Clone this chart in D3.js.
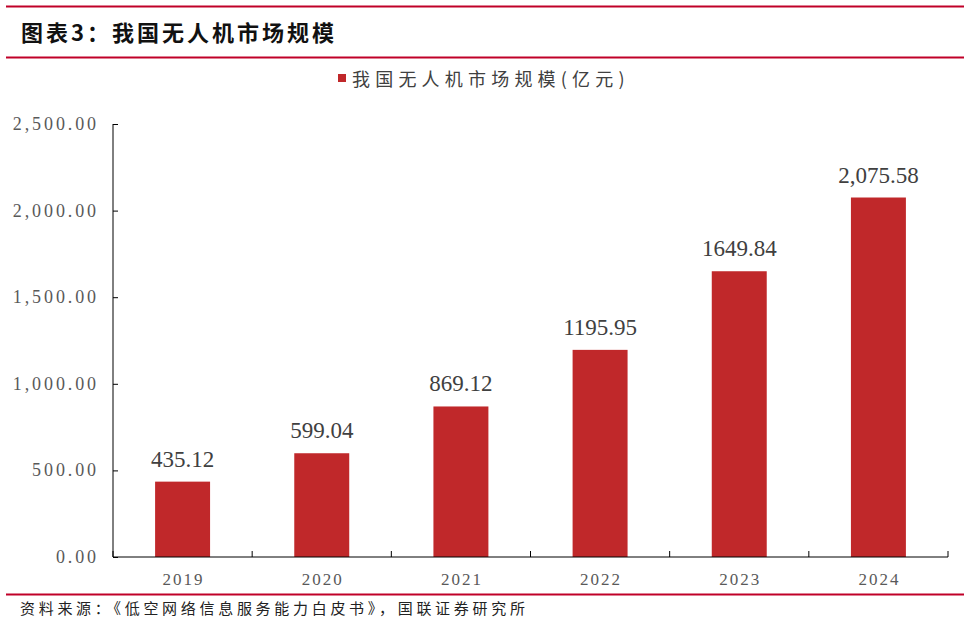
<!DOCTYPE html>
<html><head><meta charset="utf-8">
<script src="https://cdn.jsdelivr.net/npm/d3@7"></script>
<style>body{margin:0;background:#fff}svg{display:block}</style>
</head><body>
<svg id="c" width="974" height="626"></svg>
<script>
const categories = ["2019","2020","2021","2022","2023","2024"];
const values = [435.12, 599.04, 869.12, 1195.95, 1649.84, 2075.58];
const valueLabels = ["435.12","599.04","869.12","1195.95","1649.84","2,075.58"];
const yTicks = [0, 500, 1000, 1500, 2000, 2500];
const yTickLabels = ["0.00","500.00","1,000.00","1,500.00","2,000.00","2,500.00"];
const titleText = "图表3：我国无人机市场规模";
const legendText = "我国无人机市场规模(亿元)";
const sourceText = "资料来源：《低空网络信息服务能力白皮书》，国联证券研究所";

const svg = d3.select("#c");
const red = "#C0282A", rule = "#C00028";
const cjk = "'Noto Sans CJK SC', sans-serif";
const serif = "'Liberation Serif', 'Times New Roman', serif";

// header rules
[6.5, 57.5, 594.5].forEach(y => svg.append("line").attr("x1",6).attr("x2",964).attr("y1",y).attr("y2",y)
  .attr("stroke",rule).attr("stroke-width",2.2));
svg.append("text").attr("x",21).attr("y",41).text(titleText)
  .attr("font-family",cjk).attr("font-weight",700).attr("font-size",22).attr("letter-spacing",3.0).attr("fill","#111");

// legend
svg.append("rect").attr("x",338).attr("y",74).attr("width",8).attr("height",8).attr("fill",red);
svg.append("text").attr("x",352).attr("y",86).text(legendText)
  .attr("font-family",cjk).attr("font-size",18).attr("letter-spacing",5.2).attr("fill","#404040");

const x = d3.scaleBand().domain(categories).range([113,948]).padding(0);
const y = d3.scaleLinear().domain([0,2500]).range([557,124]);
const bw = x.bandwidth()*0.395;

// bars
svg.append("g").selectAll("rect").data(values).join("rect")
  .attr("x",(d,i)=>x(categories[i])+x.bandwidth()/2-bw/2)
  .attr("width",bw).attr("y",d=>y(d)).attr("height",d=>y(0)-y(d)).attr("fill",red);
svg.append("g").selectAll("text").data(values).join("text")
  .attr("x",(d,i)=>x(categories[i])+x.bandwidth()/2).attr("y",d=>y(d)-15)
  .attr("text-anchor","middle").attr("font-family",serif).attr("font-size",23).attr("fill","#404040")
  .text((d,i)=>valueLabels[i]);

// y axis
const ya = svg.append("g").attr("transform","translate(113,0)")
  .call(d3.axisRight(y).tickValues(yTicks).tickSize(5).tickFormat(""));
ya.select(".domain").attr("stroke","#000").attr("d","M0,124V557");
ya.selectAll(".tick line").attr("stroke","#000");
svg.append("g").selectAll("text").data(yTicks).join("text")
  .attr("x",99).attr("y",d=>y(d)+6).attr("text-anchor","end")
  .attr("font-family",serif).attr("font-size",18).attr("letter-spacing",2.9).attr("fill","#595959")
  .text((d,i)=>yTickLabels[i]);

// x axis
const xa = svg.append("g").attr("transform","translate(0,557)")
  .call(d3.axisTop(x).tickSize(0).tickFormat(""));
xa.select(".domain").attr("stroke","#000").attr("d","M113,0H948");
const bounds = categories.map(c=>x(c)+x.bandwidth()).concat([x(categories[0])]);
svg.append("g").selectAll("line").data(bounds).join("line")
  .attr("x1",d=>d).attr("x2",d=>d).attr("y1",557).attr("y2",551).attr("stroke","#000");
svg.append("g").selectAll("text").data(categories).join("text")
  .attr("x",d=>x(d)+x.bandwidth()/2+1).attr("y",585).attr("text-anchor","middle")
  .attr("font-family",serif).attr("font-size",17).attr("letter-spacing",2).attr("fill","#595959")
  .text(d=>d);

// source
svg.append("text").attr("x",20).attr("y",614).text(sourceText)
  .attr("font-family",cjk).attr("font-size",15).attr("letter-spacing",3.7).attr("fill","#222");
</script>
</body></html>
